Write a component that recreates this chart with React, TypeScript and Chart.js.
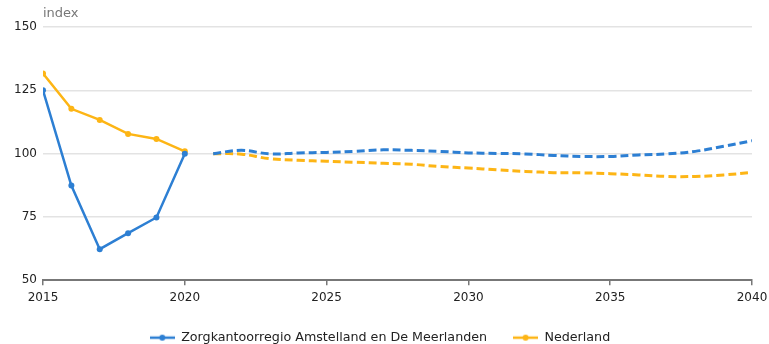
import React, { useEffect, useRef } from "react";
import { Chart, registerables } from "chart.js";

Chart.register(...registerables);

const histYears = [2015, 2016, 2017, 2018, 2019, 2020];
const regioHist = [125, 87.4, 62.3, 68.6, 74.8, 100];
const nederlandHist = [131.6, 117.7, 113.3, 107.8, 105.8, 100.9];

const progYears = [2021, 2022, 2023, 2024, 2025, 2026, 2027, 2028, 2029, 2030, 2031, 2032, 2033, 2034, 2035, 2036, 2037, 2038, 2039, 2040];
const regioProg = [100, 101.3, 99.9, 100.3, 100.5, 100.9, 101.5, 101.3, 100.9, 100.3, 100.1, 99.9, 99.3, 98.9, 98.9, 99.5, 99.9, 100.9, 102.9, 105.1];
const nederlandProg = [100, 99.8, 98, 97.4, 97, 96.6, 96.2, 95.8, 94.9, 94.3, 93.6, 93, 92.5, 92.4, 92.1, 91.6, 91, 91, 91.6, 92.6];

const seriesNames = ["Zorgkantoorregio Amstelland en De Meerlanden", "Nederland"];
const xTicks = [2015, 2020, 2025, 2030, 2035, 2040];
const yTicks = [50, 75, 100, 125, 150];
const axisTitle = "index";

const BLUE = "#2d7fd3";
const ORANGE = "#fdb515";
const FONT = "'DejaVu Sans', Verdana, sans-serif";
const TEXT = "#222";

function legendIcon(color: string) {
  const c = document.createElement("canvas");
  c.width = 25;
  c.height = 10;
  const ctx = c.getContext("2d")!;
  ctx.strokeStyle = color;
  ctx.lineWidth = 2.5;
  ctx.beginPath();
  ctx.moveTo(0, 5);
  ctx.lineTo(25, 5);
  ctx.stroke();
  ctx.fillStyle = color;
  ctx.beginPath();
  ctx.arc(12.5, 5, 3, 0, Math.PI * 2);
  ctx.fill();
  return c;
}

const pts = (xs: number[], ys: number[]) => xs.map((x, i) => ({ x, y: ys[i] }));

export default function App() {
  const ref = useRef<HTMLCanvasElement | null>(null);

  useEffect(() => {
    if (!ref.current) return;
    const icons = [legendIcon(BLUE), legendIcon(ORANGE)];

    const titlePlugin = {
      id: "indexTitle",
      afterDraw(chart: any) {
        const ctx = chart.ctx;
        ctx.save();
        ctx.font = `13px ${FONT}`;
        ctx.fillStyle = "#777";
        ctx.textAlign = "left";
        ctx.textBaseline = "middle";
        ctx.fillText(axisTitle, chart.chartArea.left, 14);
        ctx.restore();
      },
    };

    const chart = new Chart(ref.current, {
      type: "line",
      data: {
        datasets: [
          {
            label: seriesNames[0],
            data: pts(histYears, regioHist),
            borderColor: BLUE,
            backgroundColor: BLUE,
            borderWidth: 2.5,
            pointRadius: 3,
            pointBorderWidth: 0,
            tension: 0,
          },
          {
            label: seriesNames[1],
            data: pts(histYears, nederlandHist),
            borderColor: ORANGE,
            backgroundColor: ORANGE,
            borderWidth: 2.5,
            pointRadius: 3,
            pointBorderWidth: 0,
            tension: 0,
          },
          {
            label: seriesNames[0] + " prognose",
            data: pts(progYears, regioProg),
            borderColor: BLUE,
            backgroundColor: BLUE,
            borderWidth: 3,
            borderDash: [8, 4],
            pointRadius: 0,
            tension: 0.4,
          },
          {
            label: seriesNames[1] + " prognose",
            data: pts(progYears, nederlandProg),
            borderColor: ORANGE,
            backgroundColor: ORANGE,
            borderWidth: 3,
            borderDash: [8, 4],
            pointRadius: 0,
            tension: 0.4,
          },
        ],
      },
      options: {
        animation: false,
        responsive: false,
        maintainAspectRatio: false,
        layout: { padding: { top: 27, right: 17, left: 8, bottom: 0 } },
        plugins: {
          tooltip: { enabled: false },
          legend: {
            position: "bottom",
            align: "center",
            labels: {
              usePointStyle: true,
              pointStyleWidth: 25,
              padding: 26,
              color: TEXT,
              font: { family: FONT, size: 12.7 },
              generateLabels: () =>
                seriesNames.map((name, i) => ({
                  text: name,
                  pointStyle: icons[i],
                  fillStyle: i === 0 ? BLUE : ORANGE,
                  strokeStyle: i === 0 ? BLUE : ORANGE,
                  lineWidth: 0,
                  hidden: false,
                  datasetIndex: i,
                  fontColor: TEXT,
                })),
            },
          },
        },
        scales: {
          x: {
            type: "linear",
            min: 2015,
            max: 2040,
            afterFit: (scale: any) => {
              scale.height = 25;
              scale.paddingRight = 0;
              scale.paddingLeft = 0;
            },
            afterBuildTicks: (scale: any) => {
              scale.ticks = xTicks.map((v) => ({ value: v }));
            },
            ticks: {
              color: TEXT,
              font: { family: FONT, size: 12 },
              padding: 5,
              maxRotation: 0,
              callback: (v: any) => String(v),
            },
            grid: {
              drawOnChartArea: false,
              drawTicks: true,
              tickLength: 5,
              color: "#777",
              lineWidth: 1.5,
            },
            border: { display: true, color: "#777", width: 2 },
          },
          y: {
            min: 50,
            max: 150,
            afterFit: (scale: any) => {
              scale.width = 35;
            },
            afterBuildTicks: (scale: any) => {
              scale.ticks = yTicks.map((v) => ({ value: v }));
            },
            ticks: {
              color: TEXT,
              font: { family: FONT, size: 12 },
              padding: 6,
            },
            grid: {
              drawTicks: false,
              color: (ctx: any) => (ctx.tick && ctx.tick.value === 50 ? "rgba(0,0,0,0)" : "#e3e3e3"),
              lineWidth: 1.5,
            },
            border: { display: false },
          },
        },
      } as any,
      plugins: [titlePlugin],
    });

    return () => chart.destroy();
  }, []);

  return (
    <div style={{ position: "fixed", left: 0, top: 0, width: 769, height: 354, background: "#fff" }}>
      <canvas ref={ref} width={769} height={354} style={{ display: "block", width: 769, height: 354 }} />
    </div>
  );
}
